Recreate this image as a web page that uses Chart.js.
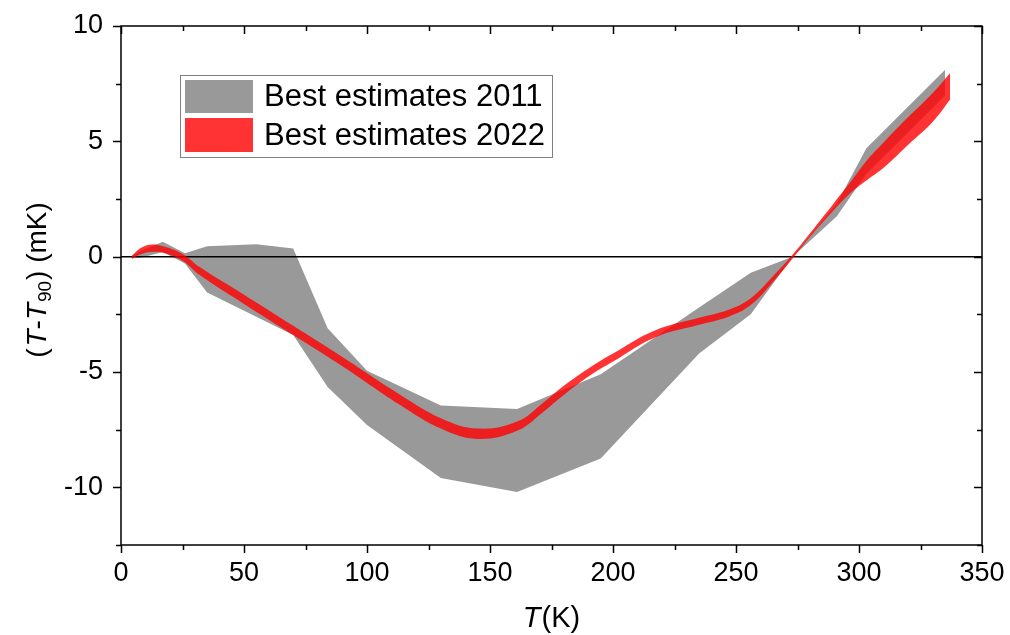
<!DOCTYPE html>
<html>
<head>
<meta charset="utf-8">
<script src="https://cdn.jsdelivr.net/npm/chart.js@4.4.1/dist/chart.umd.min.js"></script>
<style>
  html, body { margin: 0; padding: 0; background: #fff; }
  #wrap { width: 1010px; height: 635px; position: relative; }
</style>
</head>
<body>
<div id="wrap"><canvas id="myChart" width="1010" height="635"></canvas></div>
<script>
// 2011 best estimates: polygon band (upper / lower edge)
const greyT     = [4, 8, 17, 26, 35, 55, 70, 84, 100, 130, 161, 195, 235, 256, 273, 291, 303, 335];
const greyUpper = [0.0, 0.25, 0.65, 0.15, 0.45, 0.54, 0.35, -3.1, -4.95, -6.45, -6.6, -5.1, -2.2, -0.7, 0.0, 2.3, 4.7, 8.1];
const greyLower = [-0.05, -0.05, 0.2, -0.3, -1.55, -2.6, -3.4, -5.65, -7.3, -9.6, -10.2, -8.75, -4.2, -2.5, 0.0, 1.75, 3.6, 7.0];

// 2022 best estimates: smooth band
const redT     = [4.5, 8, 12, 17, 25, 32, 50, 70, 90, 113, 130, 145, 161, 172, 180, 190, 200, 217, 235, 247, 256, 265, 273, 280, 290, 297, 303, 310, 320, 330, 337];
const redUpper = [0.05, 0.38, 0.52, 0.45, 0.12, -0.45, -1.65, -3.0, -4.35, -5.95, -7.0, -7.45, -7.15, -6.3, -5.6, -4.85, -4.2, -3.2, -2.65, -2.3, -1.8, -0.85, 0.08, 1.0, 2.35, 3.3, 4.15, 4.95, 6.05, 7.1, 7.95];
const redLower = [-0.1, 0.1, 0.2, 0.17, -0.18, -0.8, -2.05, -3.4, -4.75, -6.4, -7.45, -7.9, -7.55, -6.7, -6.0, -5.2, -4.55, -3.5, -2.95, -2.6, -2.1, -1.1, -0.08, 0.85, 2.05, 2.8, 3.3, 3.85, 4.85, 5.85, 6.8];

const zeroT = [0, 350];
const zeroY = [0, 0];

const legendLabels = ["Best estimates 2011", "Best estimates 2022"];
const xTicks = [0, 25, 50, 75, 100, 125, 150, 175, 200, 225, 250, 275, 300, 325, 350];
const yTicks = [-12.5, -10, -7.5, -5, -2.5, 0, 2.5, 5, 7.5, 10];

const GREY = "#999999";
const RED = "rgba(255,0,0,0.8)";
const FONT = "Liberation Sans, Arial, sans-serif";

const pts = (xs, ys) => xs.map((x, i) => ({x: x, y: ys[i]}));

// frame, tick marks, axis titles and legend
const decorations = {
    id: "decorations",
    afterDraw(chart) {
        const ctx = chart.ctx;
        const a = chart.chartArea;
        const xs = chart.scales.x, ys = chart.scales.y;
        ctx.save();
        ctx.strokeStyle = "#000";
        ctx.lineWidth = 1.5;
        ctx.strokeRect(a.left, a.top, a.right - a.left, a.bottom - a.top);
        ctx.beginPath();
        xTicks.forEach(v => {
            const px = Math.round(xs.getPixelForValue(v)) + 0.5;
            const len = v % 50 === 0 ? 8 : 5;
            ctx.moveTo(px, a.bottom); ctx.lineTo(px, a.bottom + len);
            ctx.moveTo(px, a.top); ctx.lineTo(px, a.top + len);
        });
        yTicks.forEach(v => {
            const py = Math.round(ys.getPixelForValue(v)) + 0.5;
            const len = v % 5 === 0 ? 8 : 5;
            ctx.moveTo(a.left, py); ctx.lineTo(a.left - len, py);
            ctx.moveTo(a.right, py); ctx.lineTo(a.right - len, py);
        });
        ctx.stroke();

        // axis titles (italic T, subscript 90)
        ctx.fillStyle = "#000";
        ctx.textBaseline = "alphabetic";
        const drawRich = (parts, cx, base, rotate, size) => {
            const fontOf = p => (p.it ? "italic " : "") + Math.round(p.sub ? size * 0.68 : size) + "px " + FONT;
            let w = 0;
            parts.forEach(p => {
                ctx.font = fontOf(p);
                p.w = ctx.measureText(p.t).width + (p.gap || 0);
                w += p.w;
            });
            ctx.save();
            if (rotate) { ctx.translate(base, cx); ctx.rotate(-Math.PI / 2); }
            else { ctx.translate(cx, base); }
            let x = -w / 2;
            parts.forEach(p => {
                ctx.font = fontOf(p);
                ctx.fillText(p.t, x, p.sub ? 5 : 0);
                x += p.w;
            });
            ctx.restore();
        };
        drawRich([{t: "T", it: true, gap: 1}, {t: "(K)"}], (a.left + a.right) / 2, 627, false, 29);
        drawRich([{t: "(", gap: 2}, {t: "T", it: true}, {t: "-"}, {t: "T", it: true, gap: 1}, {t: "90", sub: true, gap: 1},
                  {t: ") (mK)"}], 280, 46, true, 28);

        // legend
        ctx.strokeStyle = "#808080";
        ctx.lineWidth = 1;
        ctx.strokeRect(180.5, 75.5, 372, 82);
        ctx.fillStyle = GREY;
        ctx.fillRect(185, 80, 68, 33);
        ctx.fillStyle = "#ff3333";
        ctx.fillRect(185, 118, 68, 34);
        ctx.fillStyle = "#000";
        ctx.font = "31px " + FONT;
        ctx.textBaseline = "middle";
        ctx.fillText(legendLabels[0], 264, 97);
        ctx.fillText(legendLabels[1], 264, 136);
        ctx.restore();
    }
};

const ctx = document.getElementById("myChart");
const config = {
    type: "line",
    data: {
        datasets: [
            {label: legendLabels[0], data: pts(greyT, greyUpper), borderWidth: 0, pointRadius: 0, fill: false, order: 3},
            {label: legendLabels[0] + " low", data: pts(greyT, greyLower), borderWidth: 0, pointRadius: 0,
                fill: "-1", backgroundColor: GREY, order: 3},
            {label: "zero", data: pts(zeroT, zeroY), borderColor: "#000", borderWidth: 1.5, pointRadius: 0, fill: false, order: 2},
            {label: legendLabels[1], data: pts(redT, redUpper), borderWidth: 0, pointRadius: 0, tension: 0.4, fill: false, order: 1},
            {label: legendLabels[1] + " low", data: pts(redT, redLower), borderWidth: 0, pointRadius: 0, tension: 0.4,
                fill: 3, backgroundColor: RED, order: 1},
        ]
    },
    options: {
        responsive: false,
        animation: false,
        events: [],
        layout: {padding: {top: 26, right: 28, left: 0, bottom: 0}},
        plugins: {legend: {display: false}, tooltip: {enabled: false}},
        scales: {
            x: {
                type: "linear", min: 0, max: 350,
                grid: {display: false, drawTicks: false},
                border: {display: false},
                ticks: {stepSize: 50, color: "#000", padding: 12, font: {size: 27, family: FONT}},
                afterFit: s => { s.height = 90; s.paddingLeft = 0; s.paddingRight = 0; }
            },
            y: {
                type: "linear", min: -12.5, max: 10,
                grid: {display: false, drawTicks: false},
                border: {display: false},
                ticks: {stepSize: 5, color: "#000", padding: 18, font: {size: 27, family: FONT},
                    callback: v => (v % 5 === 0 ? String(v) : "")},
                afterFit: s => { s.width = 121; s.paddingTop = 0; s.paddingBottom = 0; }
            }
        }
    },
    plugins: [decorations]
};
const chart = new Chart(ctx, config);
</script>
</body>
</html>
